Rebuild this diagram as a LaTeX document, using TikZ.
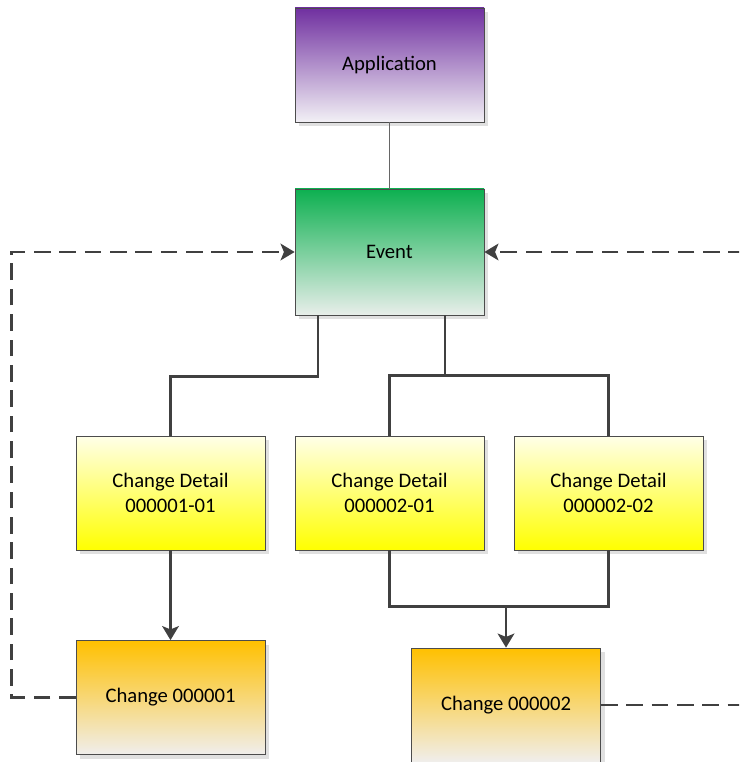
\documentclass[tikz,border=0pt]{standalone}
\usepackage{fontspec}
\setmainfont{Carlito}
\usetikzlibrary{arrows.meta,shadows,calc}
\definecolor{appTop}{HTML}{7030A0}
\definecolor{appBot}{HTML}{F2F0F5}
\definecolor{evTop}{HTML}{0DB050}
\definecolor{evBot}{HTML}{E8EEEA}
\definecolor{cdTop}{HTML}{FFFFE8}
\definecolor{cdBot}{HTML}{FFFF00}
\definecolor{chTop}{HTML}{FFC000}
\definecolor{chBot}{HTML}{F0EEEC}
\definecolor{lineC}{HTML}{404040}
\begin{document}
\begin{tikzpicture}[x=0.75pt,y=-0.75pt,
  box/.style={draw=black!70, line width=0.6pt, minimum width=141.75pt, minimum height=85.5pt,
    inner sep=0pt, align=center, font=\fontsize{15.5}{19}\selectfont,
    drop shadow={shadow xshift=3pt, shadow yshift=-3pt, fill=black!12, opacity=1, draw=none}},
  appbox/.style={box, top color=appTop, bottom color=appBot},
  evbox/.style={box, top color=evTop, bottom color=evBot, minimum height=94.5pt},
  cdbox/.style={box, top color=cdTop, bottom color=cdBot},
  chbox/.style={box, top color=chTop, bottom color=chBot},
  conn/.style={draw=lineC, line width=1.9pt},
  tip/.style={-{Stealth[length=10.5pt,width=12.5pt,inset=2.5pt]}},
  dashline/.style={draw=lineC, line width=1.9pt, dash pattern=on 12.5pt off 6.5pt}]
\clip (0,0) rectangle (739,762);
\node[appbox] (app) at (389.5,65) {Application};
\node[evbox] (ev) at (389.5,252) {Event};
\node[cdbox] (cd1) at (170.5,493) {Change Detail\\000001-01};
\node[cdbox] (cd2) at (389.5,493) {Change Detail\\000002-01};
\node[cdbox] (cd3) at (608.5,493) {Change Detail\\000002-02};
\node[chbox] (ch1) at (170.5,697.5) {Change 000001};
\node[chbox] (ch2) at (506,705) {Change 000002};
\draw[draw=black!60, line width=0.75pt] (app.south) -- (ev.north);
\draw[conn] ($(ev.south)+(-71.5,0)$) -- ++(0,61) -| (cd1.north);
\draw[conn] ($(ev.south)+(55.5,0)$) -- ++(0,61);
\draw[conn] (cd2.north) -- ++(0,-60) -| (cd3.north);
\draw[conn] (cd2.south) -- ++(0,56) -| (cd3.south);
\coordinate (m2) at ($(cd2.south)+(0,56)$);
\draw[conn,tip] (m2 -| ch2.north) -- (ch2.north);
\draw[conn,tip] (cd1.south) -- (ch1.north);
\draw[dashline,tip] (ch1.west) -- ++(-64,0) |- (ev.west);
\coordinate (re1) at (745,705);
\coordinate (re2) at (745,252);
\draw[dashline] (ch2.east) -- (re1);
\draw[dashline,tip] (re2) -- (ev.east);
\end{tikzpicture}
\end{document}
